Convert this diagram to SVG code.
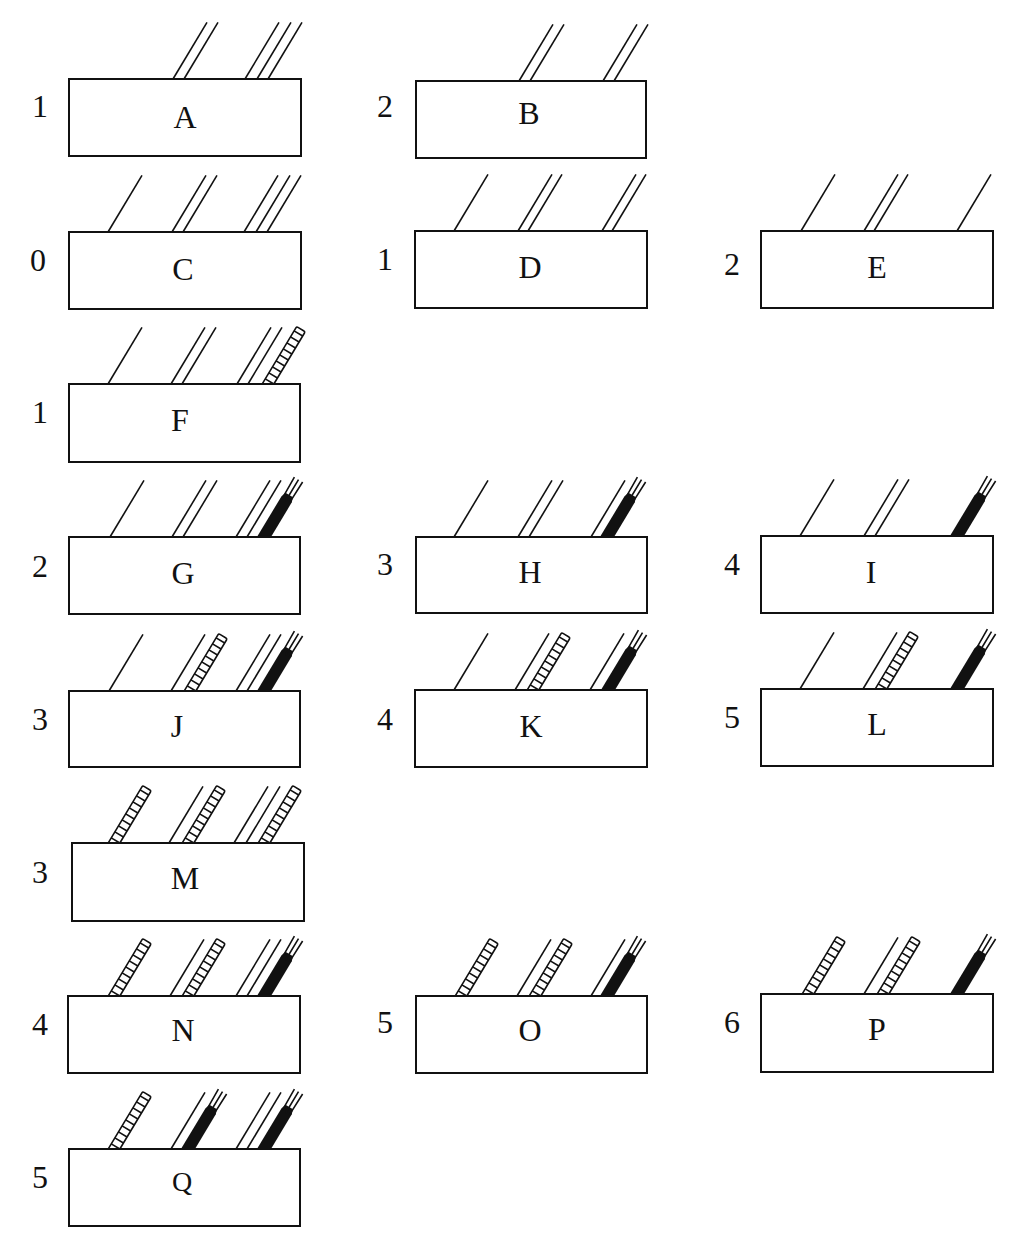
<svg xmlns="http://www.w3.org/2000/svg" xmlns:xlink="http://www.w3.org/1999/xlink" width="1023" height="1234" viewBox="0 0 1023 1234">
<style>
.box{fill:#fff;stroke:#111;stroke-width:2}
.ln{stroke:#111;stroke-width:1.6;fill:none}
.lt{font-family:"Liberation Serif","Times New Roman",serif;font-size:32px;fill:#111;text-anchor:middle}
.num{font-family:"Liberation Serif","Times New Roman",serif;font-size:32px;fill:#111;text-anchor:middle}
</style>
<defs>
<g id="s"><line class="ln" x1="0" y1="0" x2="66" y2="0"/></g>
<g id="h">
<rect x="-4" y="-5" width="68" height="10" rx="1.5" fill="#fff" stroke="#111" stroke-width="1.6"/>
<path class="ln" stroke-width="1.5" d="M3 -5V5M10 -5V5M17 -5V5M24 -5V5M31 -5V5M38 -5V5M45 -5V5M52 -5V5M59 -5V5"/>
</g>
<g id="b">
<path d="M-4 -6H44L49 -4.4V4.4L44 6H-4Z" fill="#111"/>
<path class="ln" stroke-width="1.4" d="M42 -4.2L67 -4.8M42 0L67 0M42 4.2L67 4.8"/>
</g>
</defs>

<g id="node-A">
<use xlink:href="#s" transform="translate(173,79) rotate(-59)"/>
<use xlink:href="#s" transform="translate(184,79) rotate(-59)"/>
<use xlink:href="#s" transform="translate(245,79) rotate(-59)"/>
<use xlink:href="#s" transform="translate(257,79) rotate(-59)"/>
<use xlink:href="#s" transform="translate(268,79) rotate(-59)"/>
<rect class="box" x="69" y="79" width="232" height="77"/>
<text class="lt" x="185" y="128">A</text>
<text class="num" x="40" y="117">1</text>
</g>

<g id="node-B">
<use xlink:href="#s" transform="translate(519,81) rotate(-59)"/>
<use xlink:href="#s" transform="translate(530,81) rotate(-59)"/>
<use xlink:href="#s" transform="translate(603,81) rotate(-59)"/>
<use xlink:href="#s" transform="translate(614,81) rotate(-59)"/>
<rect class="box" x="416" y="81" width="230" height="77"/>
<text class="lt" x="529" y="124">B</text>
<text class="num" x="385" y="117">2</text>
</g>

<g id="node-C">
<use xlink:href="#s" transform="translate(108,232) rotate(-59)"/>
<use xlink:href="#s" transform="translate(172,232) rotate(-59)"/>
<use xlink:href="#s" transform="translate(183,232) rotate(-59)"/>
<use xlink:href="#s" transform="translate(244,232) rotate(-59)"/>
<use xlink:href="#s" transform="translate(256,232) rotate(-59)"/>
<use xlink:href="#s" transform="translate(267,232) rotate(-59)"/>
<rect class="box" x="69" y="232" width="232" height="77"/>
<text class="lt" x="183" y="280">C</text>
<text class="num" x="38" y="271">0</text>
</g>

<g id="node-D">
<use xlink:href="#s" transform="translate(454,231) rotate(-59)"/>
<use xlink:href="#s" transform="translate(518,231) rotate(-59)"/>
<use xlink:href="#s" transform="translate(528,231) rotate(-59)"/>
<use xlink:href="#s" transform="translate(602,231) rotate(-59)"/>
<use xlink:href="#s" transform="translate(612,231) rotate(-59)"/>
<rect class="box" x="415" y="231" width="232" height="77"/>
<text class="lt" x="530" y="278">D</text>
<text class="num" x="385" y="270">1</text>
</g>

<g id="node-E">
<use xlink:href="#s" transform="translate(801,231) rotate(-59)"/>
<use xlink:href="#s" transform="translate(864,231) rotate(-59)"/>
<use xlink:href="#s" transform="translate(874,231) rotate(-59)"/>
<use xlink:href="#s" transform="translate(957,231) rotate(-59)"/>
<rect class="box" x="761" y="231" width="232" height="77"/>
<text class="lt" x="877" y="278">E</text>
<text class="num" x="732" y="275">2</text>
</g>

<g id="node-F">
<use xlink:href="#s" transform="translate(108,384) rotate(-59)"/>
<use xlink:href="#s" transform="translate(171,384) rotate(-59)"/>
<use xlink:href="#s" transform="translate(182,384) rotate(-59)"/>
<use xlink:href="#s" transform="translate(237,384) rotate(-59)"/>
<use xlink:href="#s" transform="translate(248,384) rotate(-59)"/>
<use xlink:href="#h" transform="translate(268,384) rotate(-59)"/>
<rect class="box" x="69" y="384" width="231" height="78"/>
<text class="lt" x="180" y="431">F</text>
<text class="num" x="40" y="423">1</text>
</g>

<g id="node-G">
<use xlink:href="#s" transform="translate(110,537) rotate(-59)"/>
<use xlink:href="#s" transform="translate(172,537) rotate(-59)"/>
<use xlink:href="#s" transform="translate(183,537) rotate(-59)"/>
<use xlink:href="#s" transform="translate(236,537) rotate(-59)"/>
<use xlink:href="#s" transform="translate(247,537) rotate(-59)"/>
<use xlink:href="#b" transform="translate(264,537) rotate(-59)"/>
<rect class="box" x="69" y="537" width="231" height="77"/>
<text class="lt" x="183" y="584">G</text>
<text class="num" x="40" y="577">2</text>
</g>

<g id="node-H">
<use xlink:href="#s" transform="translate(454,537) rotate(-59)"/>
<use xlink:href="#s" transform="translate(518,537) rotate(-59)"/>
<use xlink:href="#s" transform="translate(529,537) rotate(-59)"/>
<use xlink:href="#s" transform="translate(591,537) rotate(-59)"/>
<use xlink:href="#b" transform="translate(607,537) rotate(-59)"/>
<rect class="box" x="416" y="537" width="231" height="76"/>
<text class="lt" x="530" y="583">H</text>
<text class="num" x="385" y="575">3</text>
</g>

<g id="node-I">
<use xlink:href="#s" transform="translate(800,536) rotate(-59)"/>
<use xlink:href="#s" transform="translate(864,536) rotate(-59)"/>
<use xlink:href="#s" transform="translate(875,536) rotate(-59)"/>
<use xlink:href="#b" transform="translate(957,536) rotate(-59)"/>
<rect class="box" x="761" y="536" width="232" height="77"/>
<text class="lt" x="871" y="583">I</text>
<text class="num" x="732" y="575">4</text>
</g>

<g id="node-J">
<use xlink:href="#s" transform="translate(109,691) rotate(-59)"/>
<use xlink:href="#s" transform="translate(171,691) rotate(-59)"/>
<use xlink:href="#h" transform="translate(190,691) rotate(-59)"/>
<use xlink:href="#s" transform="translate(236,691) rotate(-59)"/>
<use xlink:href="#s" transform="translate(247,691) rotate(-59)"/>
<use xlink:href="#b" transform="translate(264,691) rotate(-59)"/>
<rect class="box" x="69" y="691" width="231" height="76"/>
<text class="lt" x="177" y="737">J</text>
<text class="num" x="40" y="730">3</text>
</g>

<g id="node-K">
<use xlink:href="#s" transform="translate(454,690) rotate(-59)"/>
<use xlink:href="#s" transform="translate(515,690) rotate(-59)"/>
<use xlink:href="#h" transform="translate(533,690) rotate(-59)"/>
<use xlink:href="#s" transform="translate(590,690) rotate(-59)"/>
<use xlink:href="#b" transform="translate(608,690) rotate(-59)"/>
<rect class="box" x="415" y="690" width="232" height="77"/>
<text class="lt" x="531" y="737">K</text>
<text class="num" x="385" y="730">4</text>
</g>

<g id="node-L">
<use xlink:href="#s" transform="translate(800,689) rotate(-59)"/>
<use xlink:href="#s" transform="translate(863,689) rotate(-59)"/>
<use xlink:href="#h" transform="translate(881,689) rotate(-59)"/>
<use xlink:href="#b" transform="translate(957,689) rotate(-59)"/>
<rect class="box" x="761" y="689" width="232" height="77"/>
<text class="lt" x="877" y="735">L</text>
<text class="num" x="732" y="728">5</text>
</g>

<g id="node-M">
<use xlink:href="#h" transform="translate(114,843) rotate(-59)"/>
<use xlink:href="#s" transform="translate(169,843) rotate(-59)"/>
<use xlink:href="#h" transform="translate(188,843) rotate(-59)"/>
<use xlink:href="#s" transform="translate(234,843) rotate(-59)"/>
<use xlink:href="#s" transform="translate(246,843) rotate(-59)"/>
<use xlink:href="#h" transform="translate(264,843) rotate(-59)"/>
<rect class="box" x="72" y="843" width="232" height="78"/>
<text class="lt" x="185" y="889">M</text>
<text class="num" x="40" y="883">3</text>
</g>

<g id="node-N">
<use xlink:href="#h" transform="translate(114,996) rotate(-59)"/>
<use xlink:href="#s" transform="translate(170,996) rotate(-59)"/>
<use xlink:href="#h" transform="translate(188,996) rotate(-59)"/>
<use xlink:href="#s" transform="translate(236,996) rotate(-59)"/>
<use xlink:href="#s" transform="translate(247,996) rotate(-59)"/>
<use xlink:href="#b" transform="translate(264,996) rotate(-59)"/>
<rect class="box" x="68" y="996" width="232" height="77"/>
<text class="lt" x="183" y="1041">N</text>
<text class="num" x="40" y="1035">4</text>
</g>

<g id="node-O">
<use xlink:href="#h" transform="translate(461,996) rotate(-59)"/>
<use xlink:href="#s" transform="translate(517,996) rotate(-59)"/>
<use xlink:href="#h" transform="translate(535,996) rotate(-59)"/>
<use xlink:href="#s" transform="translate(591,996) rotate(-59)"/>
<use xlink:href="#b" transform="translate(607,996) rotate(-59)"/>
<rect class="box" x="416" y="996" width="231" height="77"/>
<text class="lt" x="530" y="1041">O</text>
<text class="num" x="385" y="1033">5</text>
</g>

<g id="node-P">
<use xlink:href="#h" transform="translate(808,994) rotate(-59)"/>
<use xlink:href="#s" transform="translate(864,994) rotate(-59)"/>
<use xlink:href="#h" transform="translate(883,994) rotate(-59)"/>
<use xlink:href="#b" transform="translate(957,994) rotate(-59)"/>
<rect class="box" x="761" y="994" width="232" height="78"/>
<text class="lt" x="877" y="1040">P</text>
<text class="num" x="732" y="1033">6</text>
</g>

<g id="node-Q">
<use xlink:href="#h" transform="translate(114,1149) rotate(-59)"/>
<use xlink:href="#s" transform="translate(171,1149) rotate(-59)"/>
<use xlink:href="#b" transform="translate(188,1149) rotate(-59)"/>
<use xlink:href="#s" transform="translate(236,1149) rotate(-59)"/>
<use xlink:href="#s" transform="translate(247,1149) rotate(-59)"/>
<use xlink:href="#b" transform="translate(264,1149) rotate(-59)"/>
<rect class="box" x="69" y="1149" width="231" height="77"/>
<text class="lt" x="182" y="1191" style="font-size:28px">Q</text>
<text class="num" x="40" y="1188">5</text>
</g>
</svg>
